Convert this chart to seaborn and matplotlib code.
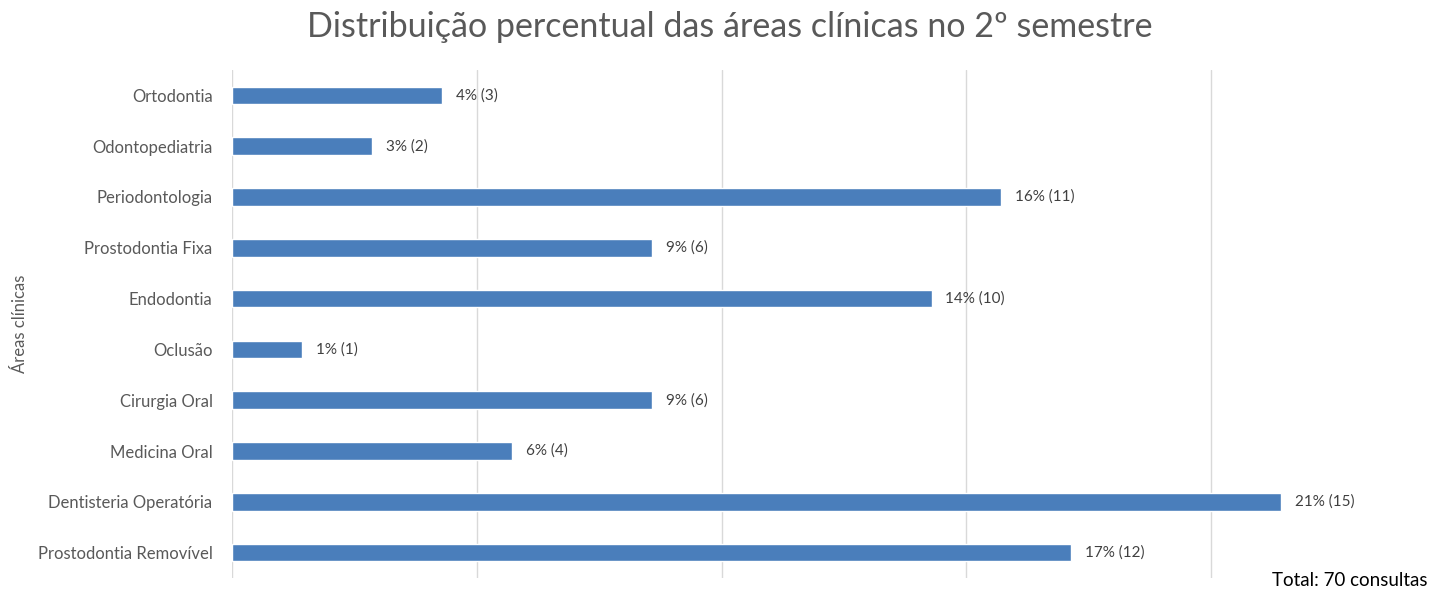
import matplotlib
matplotlib.use("Agg")
import matplotlib.pyplot as plt
import seaborn as sns
import pandas as pd

areas = ["Ortodontia", "Odontopediatria", "Periodontologia", "Prostodontia Fixa",
         "Endodontia", "Oclusão", "Cirurgia Oral", "Medicina Oral",
         "Dentisteria Operatória", "Prostodontia Removível"]
counts = [3, 2, 11, 6, 10, 1, 6, 4, 15, 12]
total = 70
title = "Distribuição percentual das áreas clínicas no 2º semestre"
ylabel = "Áreas clínicas"
note = "Total: 70 consultas"

pct = [c / total * 100 for c in counts]
df = pd.DataFrame({"area": areas, "pct": pct, "count": counts})

sns.set_theme(style="white")
plt.rcParams["font.family"] = ["Lato", "DejaVu Sans"]

fig = plt.figure(figsize=(14.47, 5.92), dpi=100)
ax = fig.add_axes([232/1447, 1 - 578/592, (1440 - 232)/1447, (578 - 70)/592])

sns.barplot(data=df, y="area", x="pct", orient="h", color="#4A7EBB",
            saturation=1, width=0.35, ax=ax)

ax.set_xlim(0, 24.67)
ax.set_ylim(9.5, -0.5)
ax.set_xticks([0, 5, 10, 15, 20])
ax.set_xticklabels([])
ax.tick_params(axis="x", length=0)
ax.tick_params(axis="y", length=0, labelsize=12, colors="#595959", pad=14)
ax.xaxis.grid(True, color="#D9D9D9", linewidth=1)
ax.set_axisbelow(True)
for s in ax.spines.values():
    s.set_visible(False)
ax.set_xlabel("")
ax.set_ylabel(ylabel, fontsize=12, color="#595959")
ax.yaxis.set_label_coords(-0.1685, 0.5)

for i, (p, c) in enumerate(zip(pct, counts)):
    ax.annotate(f"{round(p):d}% ({c})", xy=(p, i), xytext=(10, 0),
                textcoords="offset points", va="center", ha="left",
                fontsize=11, color="#404040")

fig.text(730/1447, 1 - 27/592, title, ha="center", va="center",
         fontsize=24.5, color="#595959")
fig.text(1428/1447, 1 - 581/592, note, ha="right", va="center",
         fontsize=13.5, color="#000000")

fig.savefig("out.png", dpi=100)
